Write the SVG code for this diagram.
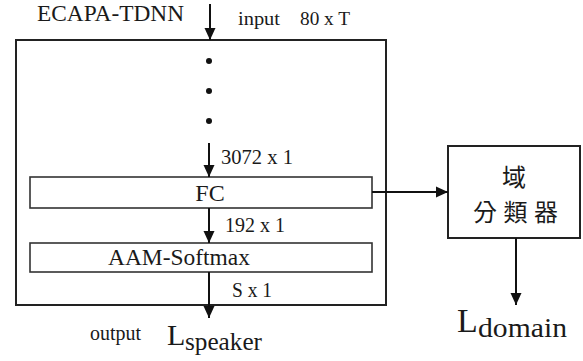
<svg xmlns="http://www.w3.org/2000/svg" width="583" height="361" viewBox="0 0 583 361">
<defs>
<marker id="ah" markerUnits="userSpaceOnUse" markerWidth="12" markerHeight="12" viewBox="0 0 12 12" refX="12" refY="6" orient="auto">
<path d="M0,0.5 L12,6 L0,11.5 Z" fill="#111"/>
</marker>
</defs>
<style>
.t{font-family:"Liberation Serif","Times New Roman",serif;fill:#1a1a1a}
.box{fill:#fff;stroke:#222;stroke-width:2}
.inner{fill:#fff;stroke:#333;stroke-width:1.6}
.ln{stroke:#111;stroke-width:2;fill:none}
.cjk{font-family:"Noto Sans CJK TC","Noto Sans CJK SC",sans-serif;fill:#1a1a1a}
</style>
<rect width="583" height="361" fill="#fff"/>
<g id="ecapa">
<rect class="box" x="16" y="40" width="370" height="265"/>
<text class="t" x="37" y="21" font-size="23" textLength="147" lengthAdjust="spacingAndGlyphs">ECAPA-TDNN</text>
<circle cx="209" cy="61" r="3" fill="#111"/>
<circle cx="209" cy="91" r="3" fill="#111"/>
<circle cx="209" cy="121" r="3" fill="#111"/>
</g>
<g id="fc">
<rect class="inner" x="30" y="177" width="342" height="31"/>
<text class="t" x="210" y="201" font-size="24" text-anchor="middle">FC</text>
</g>
<g id="aam">
<rect class="inner" x="30" y="243" width="342" height="29"/>
<text class="t" x="108" y="265" font-size="23" textLength="142" lengthAdjust="spacingAndGlyphs">AAM-Softmax</text>
</g>
<g id="domain-classifier">
<rect class="box" x="448" y="146" width="132" height="92"/>
<text class="cjk" x="514" y="186" font-size="24" text-anchor="middle">域</text>
<text class="cjk" x="473" y="221" font-size="24" textLength="85" lengthAdjust="spacing">分類器</text>
</g>
<g id="connectors">
<line class="ln" x1="210" y1="4" x2="210" y2="40" marker-end="url(#ah)"/>
<line class="ln" x1="209" y1="143" x2="209" y2="177" marker-end="url(#ah)"/>
<line class="ln" x1="209" y1="208" x2="209" y2="243" marker-end="url(#ah)"/>
<line class="ln" x1="209" y1="272" x2="209" y2="318" marker-end="url(#ah)"/>
<line class="ln" x1="372" y1="192" x2="448" y2="192" marker-end="url(#ah)"/>
<line class="ln" x1="516" y1="238" x2="516" y2="305" marker-end="url(#ah)"/>
</g>
<g id="labels">
<text class="t" x="238" y="25" font-size="19" textLength="42" lengthAdjust="spacingAndGlyphs">input</text>
<text class="t" x="300" y="25" font-size="19" textLength="50" lengthAdjust="spacingAndGlyphs">80 x T</text>
<text class="t" x="221" y="164" font-size="21" textLength="72" lengthAdjust="spacingAndGlyphs">3072 x 1</text>
<text class="t" x="225" y="232" font-size="20" textLength="60" lengthAdjust="spacingAndGlyphs">192 x 1</text>
<text class="t" x="232" y="297" font-size="20" textLength="40" lengthAdjust="spacingAndGlyphs">S x 1</text>
<text class="t" x="90" y="340" font-size="20" textLength="51" lengthAdjust="spacingAndGlyphs">output</text>
<text class="t" x="167" y="345" font-size="30">L</text>
<text class="t" x="185" y="350" font-size="25" textLength="77" lengthAdjust="spacingAndGlyphs">speaker</text>
<text class="t" x="457" y="332" font-size="34">L</text>
<text class="t" x="478" y="337" font-size="27" textLength="89" lengthAdjust="spacingAndGlyphs">domain</text>
</g>
</svg>
